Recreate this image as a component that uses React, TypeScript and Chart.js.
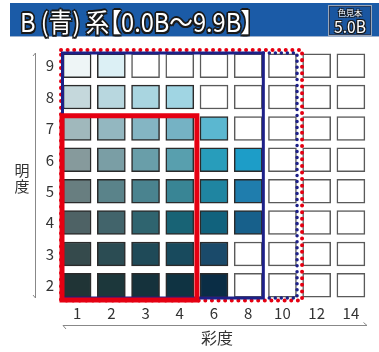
import React, { useEffect, useLayoutEffect, useRef } from 'react';
import { Chart, registerables } from 'chart.js';

Chart.register(...registerables);

// ---- data ----
const chromaLabels = ['1', '2', '3', '4', '6', '8', '10', '12', '14'];
const valueLevels = [9, 8, 7, 6, 5, 4, 3, 2];
const W = '#ffffff';
const row9 = ['#eef5f6', '#dcf0f5', W, W, W, W, W, W, W];
const row8 = ['#c5d8dc', '#b8d7df', '#a9d5e0', '#a0d5e3', W, W, W, W, W];
const row7 = ['#a0b8bc', '#93b7c0', '#84b5c3', '#75b2c4', '#5bb7d0', W, W, W, W];
const row6 = ['#869a9c', '#7a9ea5', '#699ea9', '#589fae', '#289dbb', '#1d9dc8', W, W, W];
const row5 = ['#687e80', '#5a838a', '#4a838f', '#398595', '#1f85a1', '#1f7dad', W, W, W];
const row4 = ['#4e6265', '#42646b', '#2f646f', '#186375', '#11627d', '#17608b', W, W, W];
const row3 = ['#354a4c', '#2b4c53', '#1f4a58', '#184a5d', '#1a4a6a', W, W, W, W];
const row2 = ['#203436', '#1c373b', '#15323c', '#0f3342', '#0a2d45', W, W, W, W];
const rowColors = [row9, row8, row7, row6, row5, row4, row3, row2];

// zones: [first chroma label, last chroma label, top value, bottom value]
const redSolidZone = ['1', '4', 7, 2];
const navySolidZone = ['1', '8', 9, 2];
const navyDottedZone = ['8', '10', 9, 2];
const redDottedZone = ['1', '10', 9, 2];

const FONT = "'Noto Sans CJK JP', 'Noto Sans', sans-serif";
const RED = '#e50012';
const NAVY = '#1d2088';

const overlayPlugin = {
  id: 'overlay',
  afterDatasetsDraw(chart: any) {
    const ctx = chart.ctx;
    const xs = chart.scales.x;
    const ys = chart.scales.y;
    const pitch = xs.getPixelForValue(1) - xs.getPixelForValue(0);
    const xL = (lab: string) => xs.getPixelForValue(chromaLabels.indexOf(lab)) - pitch / 2;
    const xR = (lab: string) => xs.getPixelForValue(chromaLabels.indexOf(lab)) + pitch / 2;
    const yT = (v: number) => ys.getPixelForValue(v + 0.5);
    const yB = (v: number) => ys.getPixelForValue(v - 0.5);

    ctx.save();
    // red dotted
    ctx.strokeStyle = RED;
    ctx.lineWidth = 4;
    ctx.lineCap = 'round';
    ctx.setLineDash([0.01, 6.6]);
    ctx.beginPath();
    ctx.rect(
      xL(redDottedZone[0] as string) + 1,
      yT(redDottedZone[2] as number),
      xR(redDottedZone[1] as string) + 2.5 - (xL(redDottedZone[0] as string) + 1),
      yB(redDottedZone[3] as number) - 0.5 - yT(redDottedZone[2] as number)
    );
    ctx.stroke();

    // navy solid
    ctx.setLineDash([]);
    ctx.lineCap = 'butt';
    ctx.strokeStyle = NAVY;
    ctx.lineWidth = 3;
    const nl = xL(navySolidZone[0] as string) + 2.5;
    const nt = yT(navySolidZone[2] as number) + 3;
    const nr = xR(navySolidZone[1] as string) - 2;
    const nb = yB(navySolidZone[3] as number) - 3;
    ctx.strokeRect(nl, nt, nr - nl, nb - nt);

    // navy dotted
    ctx.lineWidth = 3.5;
    ctx.lineCap = 'round';
    ctx.setLineDash([0.01, 6]);
    const dr = xR(navyDottedZone[1] as string) - 2.5;
    const dt = yT(navyDottedZone[2] as number) + 3;
    const db = yB(navyDottedZone[3] as number) - 3;
    ctx.beginPath();
    ctx.moveTo(xR(navyDottedZone[0] as string) - 2, dt);
    ctx.lineTo(dr, dt);
    ctx.lineTo(dr, db);
    ctx.lineTo(xR(navyDottedZone[0] as string) - 2, db);
    ctx.stroke();

    // red solid
    ctx.setLineDash([]);
    ctx.lineCap = 'butt';
    ctx.strokeStyle = RED;
    ctx.lineWidth = 5;
    const rl = xL(redSolidZone[0] as string) + 2;
    const rt = yT(redSolidZone[2] as number) + 3;
    const rr = xR(redSolidZone[1] as string);
    const rb = yB(redSolidZone[3] as number) - 1;
    ctx.strokeRect(rl, rt, rr - rl, rb - rt);

    // decorative axis lines
    const area = chart.chartArea;
    ctx.strokeStyle = '#888';
    ctx.lineWidth = 1;
    const ax = area.left - 24.5;
    ctx.beginPath();
    ctx.moveTo(ax, area.top + 3);
    ctx.lineTo(ax, area.bottom - 3);
    ctx.moveTo(ax, area.top + 3);
    ctx.lineTo(ax - 2.5, area.top + 6);
    ctx.moveTo(ax, area.bottom - 3);
    ctx.lineTo(ax - 2.5, area.bottom - 6);
    const by = area.bottom + 24.5;
    ctx.moveTo(area.left + 3, by);
    ctx.lineTo(area.right - 1, by);
    ctx.moveTo(area.left + 3, by);
    ctx.lineTo(area.left + 6, by + 3.5);
    ctx.moveTo(area.right - 1, by);
    ctx.lineTo(area.right - 4.5, by - 3);
    ctx.stroke();

    // axis titles
    ctx.fillStyle = '#333';
    ctx.font = `15px ${FONT}`;
    ctx.textAlign = 'center';
    ctx.textBaseline = 'middle';
    ctx.fillText('明', 22, 170);
    ctx.fillText('度', 22, 186);
    ctx.font = `16px ${FONT}`;
    ctx.fillText('彩度', 217, 338);
    ctx.restore();
  },
};

function App() {
  const canvasRef = useRef<HTMLCanvasElement | null>(null);
  const titleRef = useRef<HTMLSpanElement | null>(null);
  const swatchRef = useRef<HTMLSpanElement | null>(null);

  useLayoutEffect(() => {
    const t = titleRef.current;
    if (t) {
      const w = t.getBoundingClientRect().width;
      if (w > 0) t.style.transform = `scaleX(${233 / w})`;
    }
    const s = swatchRef.current;
    if (s) {
      const w = s.getBoundingClientRect().width;
      if (w > 0) s.style.transform = `translateX(-50%) scaleX(${32 / w})`;
    }
  }, []);

  useEffect(() => {
    if (!canvasRef.current) return;
    const datasets = valueLevels.map((v, r) => ({
      label: String(v),
      data: chromaLabels.map(() => [v - 0.38, v + 0.38]),
      backgroundColor: rowColors[r],
      borderColor: rowColors[r].map((c) => (c === W ? '#5a5a5a' : '#2b2b2b')),
      borderWidth: 1.5,
      borderSkipped: false,
      grouped: false,
      barThickness: 28,
    }));
    const chart = new Chart(canvasRef.current, {
      type: 'bar',
      data: { labels: chromaLabels, datasets: datasets as any },
      options: {
        animation: false,
        responsive: false,
        devicePixelRatio: 1,
        layout: { padding: { left: 0, top: 50, right: 11, bottom: 0 } },
        plugins: { legend: { display: false }, tooltip: { enabled: false }, title: { display: false } },
        scales: {
          x: {
            type: 'category',
            offset: true,
            grid: { display: false, drawTicks: false },
            border: { display: false },
            ticks: { color: '#333', font: { family: FONT, size: 15 }, padding: 3 },
            afterFit: (s: any) => {
              s.height = 51;
            },
          },
          y: {
            type: 'linear',
            min: 1.5,
            max: 9.5,
            grid: { display: false, drawTicks: false },
            border: { display: false },
            ticks: { color: '#333', font: { family: FONT, size: 15 }, padding: 6 },
            afterBuildTicks: (s: any) => {
              s.ticks = valueLevels.map((v) => ({ value: v }));
            },
            afterFit: (s: any) => {
              s.width = 60;
            },
          },
        },
      },
      plugins: [overlayPlugin],
    });
    return () => chart.destroy();
  }, []);

  const outline =
    '-1.5px -1.5px 0 #1a1a1a, 1.5px -1.5px 0 #1a1a1a, -1.5px 1.5px 0 #1a1a1a, 1.5px 1.5px 0 #1a1a1a, 0 1.6px 0 #1a1a1a, 0 -1.6px 0 #1a1a1a, 1.6px 0 0 #1a1a1a, -1.6px 0 0 #1a1a1a';
  const thinOutline =
    '-1px -1px 0 #1a1a1a, 1px -1px 0 #1a1a1a, -1px 1px 0 #1a1a1a, 1px 1px 0 #1a1a1a';

  return (
    <div style={{ position: 'fixed', left: 0, top: 0, width: 379, height: 352, background: '#fff', overflow: 'hidden' }}>
      <canvas ref={canvasRef} width={379} height={352} style={{ position: 'absolute', left: 0, top: 0, width: 379, height: 352 }} />
      <div
        style={{
          position: 'absolute',
          left: 10,
          top: 3,
          width: 369,
          height: 33,
          background: '#1b5ba7',
          borderBottom: '1px solid #9fb3cf',
          fontFamily: FONT,
          color: '#fff',
        }}
      >
        <span
          ref={titleRef}
          style={{
            position: 'absolute',
            left: 10,
            top: 0,
            fontSize: 26,
            lineHeight: '36px',
            whiteSpace: 'nowrap',
            fontFeatureSettings: '"palt"',
            transformOrigin: 'left center',
            textShadow: outline,
            display: 'inline-block',
          }}
        >
          B (青) 系【0.0B～9.9B】
        </span>
        <div
          style={{
            position: 'absolute',
            left: 318,
            top: 2,
            width: 42,
            height: 29,
            border: '1px solid #9aa6b8',
            boxShadow: 'inset 0 0 0 1px #253b5e',
            background: '#1a56a0',
          }}
        >
          <span
            style={{
              position: 'absolute',
              left: 0,
              width: 42,
              top: 2,
              textAlign: 'center',
              fontSize: 8,
              lineHeight: '9px',
              textShadow: thinOutline,
            }}
          >
            色見本
          </span>
          <span
            ref={swatchRef}
            style={{
              position: 'absolute',
              left: 21,
              top: 11,
              fontSize: 17,
              lineHeight: '18px',
              whiteSpace: 'nowrap',
              display: 'inline-block',
              transformOrigin: 'center center',
              textShadow: thinOutline,
            }}
          >
            5.0B
          </span>
        </div>
      </div>
    </div>
  );
}

export default App;
